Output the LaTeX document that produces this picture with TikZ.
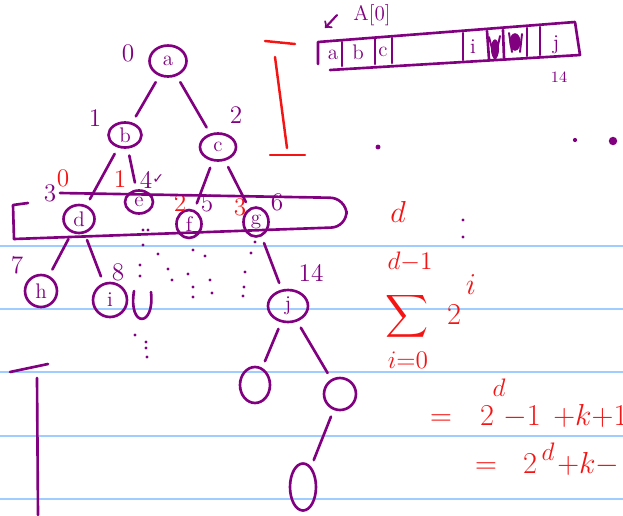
\documentclass[tikz,border=0pt]{standalone}
\usepackage{fontspec}
\newfontfamily\tickfont{DejaVu Sans}
\usetikzlibrary{shapes.geometric}
\definecolor{ink}{RGB}{128,0,128}
\definecolor{redink}{RGB}{245,20,20}
\definecolor{ruleblue}{RGB}{160,205,255}
\tikzset{
  vert/.style={
    shape = ellipse,
    draw = ink,
    line width = 1.5pt,
    inner sep = 0pt,
    minimum width = 0.66cm,
    minimum height = 0.56cm,
    text = ink,
    font = \large
  },
  branch/.style={
    draw = ink,
    line width = 1.5pt,
    line cap = round,
    shorten >= 4pt,
    shorten <= 4pt
  },
  idx/.style={
    text = ink,
    font = \Large
  },
  redidx/.style={
    text = redink,
    font = \Large
  },
  redmath/.style={
    text = redink,
    font = \LARGE,
    inner sep = 0pt,
    anchor = base
  },
  pen/.style={
    draw = ink,
    line width = 1.5pt,
    line cap = round,
    line join = round
  },
  redpen/.style={
    draw = redink,
    line width = 1.4pt,
    line cap = round
  }
}

\begin{document}
\begin{tikzpicture}[x=0.02cm,y=-0.02cm]
        \useasboundingbox (0,0) rectangle (623,515);
        % ruled paper
        \draw[ruleblue, line width=1.2pt] (0,246)--(623,246);
        \draw[ruleblue, line width=1.2pt] (0,309)--(623,309);
        \draw[ruleblue, line width=1.2pt] (0,372)--(623,372);
        \draw[ruleblue, line width=1.2pt] (0,436)--(623,436);
        \draw[ruleblue, line width=1.2pt] (0,499)--(623,499);
        % tree
        \node[vert, minimum width=0.74cm, minimum height=0.62cm] (a) at (168,61) {a};
        \node[vert, minimum height=0.5cm] (b) at (125,135) {b};
        \node[vert, minimum width=0.72cm, minimum height=0.54cm] (c) at (218,147) {c};
        \node[vert, minimum width=0.62cm] (d) at (79,219) {d};
        \node[vert, minimum width=0.56cm, minimum height=0.46cm] (e) at (139,202) {e};
        \node[vert, minimum width=0.5cm] (f) at (189,224) {f};
        \node[vert, minimum width=0.5cm, minimum height=0.58cm] (g) at (256,222) {g};
        \node[vert, minimum width=0.64cm, minimum height=0.64cm] (h) at (41,291) {h};
        \node[vert, minimum width=0.68cm, minimum height=0.68cm] (i) at (110,300) {i};
        \node[vert, minimum width=0.8cm, minimum height=0.64cm] (j) at (288,306) {j};
        \node[vert, minimum width=0.6cm, minimum height=0.72cm] (jl) at (255,385) {};
        \node[vert, minimum width=0.64cm, minimum height=0.64cm] (jr) at (340,394) {};
        \node[vert, minimum width=0.52cm, minimum height=0.94cm] (jrl) at (303,487) {};
        \draw[branch] (a) -- (b);
        \draw[branch] (a) -- (c);
        \draw[branch] (b) -- (d);
        \draw[branch] (b) -- (e);
        \draw[branch] (c) -- (f);
        \draw[branch] (c) -- (g);
        \draw[branch] (d) -- (h);
        \draw[branch] (d) -- (i);
        \draw[branch] (g) -- (j);
        \draw[branch] (j) -- (jl);
        \draw[branch] (j) -- (jr);
        \draw[branch] (jr) -- (jrl);
        \draw[pen] (134,291) .. controls (128,328) and (155,328) .. (151,292);
        % indices
        \node[idx] (ia) at (128,53) {0};
        \node[idx] (ib) at (95,118) {1};
        \node[idx] (ic) at (236,115) {2};
        \node[idx] (id) at (50,193) {3};
        \node[idx] (ie) at (152,180) {4\raisebox{3pt}{\tickfont\footnotesize ✓}};
        \node[idx] (if) at (207,203) {5};
        \node[idx] (ig) at (277,202) {6};
        \node[idx] (ih) at (17,265) {7};
        \node[idx] (ii) at (118,272) {8};
        \node[idx] (ij) at (311,273) {14};
        \node[redidx] (rd) at (63,178) {0};
        \node[redidx] (re) at (120,179) {1};
        \node[redidx] (rf) at (180,203) {2};
        \node[redidx] (rg) at (240,207) {3};
        % level d
        \draw[pen] (28,203) -- (13,205) -- (14,239);
        \draw[pen, rounded corners=9pt] (14,239) -- (347,227) -- (346,198) -- (60,193);
        % trailing dots
        \foreach \p in {(143,230),(148,230),(143,245),(158,254),(140,265),(140,276),
                        (168,269),(172,280),(188,274),(193,287),(193,297),(210,280),
                        (212,293),(193,250),(205,256),(251,253),(245,272),(244,287),
                        (243,296),(255,242),(135,335),(146,342),(146,348),(147,357),
                        (463,220),(463,237)}
          \fill[ink] \p circle (0.9pt);
        \fill[ink] (378,147) circle (1.4pt);
        \fill[ink] (575,140) circle (1.2pt);
        \fill[ink] (613,141) circle (2.4pt);
        % height bracket
        \draw[redpen] (265,41) -- (295,44);
        \draw[redpen] (275,57) -- (287,148);
        \draw[redpen] (270,155) -- (305,155);
        \draw[pen] (10,372) -- (48,364);
        \draw[pen] (37,378) -- (38,515);
        % array
        \node[text=ink, font=\large] (arr) at (372,15) {A[0]};
        \draw[pen, line width=1.2pt, ->] (337,15) -- (325,28);
        \draw[pen] (330,70) -- (580,55) -- (575,22) -- (318,42) -- (318,64);
        \draw[pen] (342,42) -- (342,66);
        \draw[pen] (375,39) -- (375,64);
        \draw[pen] (392,38) -- (392,63);
        \draw[pen] (463,33) -- (463,60);
        \draw[pen] (487,31) -- (489,59);
        \draw[pen] (503,30) -- (504,58);
        \draw[pen] (527,28) -- (527,56);
        \draw[pen] (540,27) -- (540,55);
        \node[text=ink, font=\large] (ca) at (333,55) {a};
        \node[text=ink, font=\large] (cb) at (358,52) {b};
        \node[text=ink, font=\large] (cc) at (383,52) {c};
        \node[text=ink, font=\large] (ci) at (473,47) {i};
        \node[text=ink, font=\large] (cj) at (556,45) {j};
        \node[text=ink, font=\small] (cn) at (559,77) {14};
        \fill[ink] (495,49) ellipse [x radius=2.3pt, y radius=5.5pt];
        \fill[ink] (515,42) ellipse [x radius=3.2pt, y radius=5pt];
        \draw[pen, line width=1.1pt] (489,37) -- (495,60) -- (500,36);
        \draw[pen, line width=1.1pt] (509,33) -- (512,52);
        \draw[pen, line width=1.1pt] (522,34) -- (520,52);
        % counting nodes
        \node[text=redink, font=\LARGE] (dd) at (398,212) {$d$};
        \node[text=redink, font=\Large] (sumtop) at (410,262) {$d{-}1$};
        \node[text=redink, font=\LARGE, inner sep=0pt, anchor=base] (sumsign) at (407,329) {\scalebox{1.7}{$\smash{\displaystyle\sum}$}};
        \node[text=redink, font=\Large] (sumbot) at (408,360) {$i{=}0$};
        \node[text=redink, font=\LARGE] (sumbase) at (454,315) {$2$};
        \node[text=redink, font=\LARGE] (sumexp) at (471,285) {$i$};
        \node[redmath] (eqa) at (441,425) {$=$};
        \node[redmath] (eqb) at (487,425) {$2$};
        \node[redmath, font=\Large] (eqc) at (499,396) {$d$};
        \node[redmath] (eqd) at (522,425) {$-1$};
        \node[redmath, anchor=base west] (eqe) at (553,425) {${+}k{+}1$};
        \node[redmath] (eqf) at (486,473) {$=$};
        \node[redmath] (eqg) at (530,473) {$2$};
        \node[redmath, font=\Large] (eqh) at (548,460) {$d$};
        \node[redmath, anchor=base west] (eqi) at (557,473) {${+}k{-}$};
\end{tikzpicture}
\end{document}
